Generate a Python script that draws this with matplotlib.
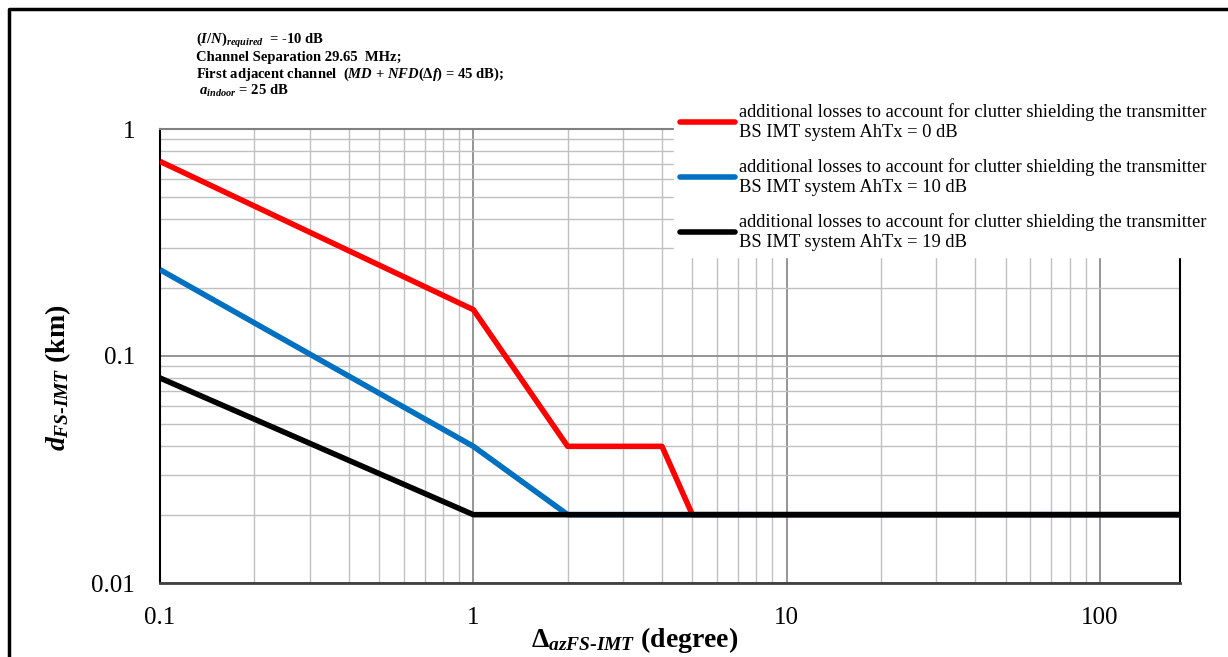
import numpy as np
import matplotlib
matplotlib.use('Agg')
import matplotlib.pyplot as plt
from matplotlib.ticker import FixedLocator, FixedFormatter, LogLocator, NullFormatter
from matplotlib.lines import Line2D

plt.rcParams['font.family'] = 'Liberation Serif'
plt.rcParams['mathtext.fontset'] = 'custom'
plt.rcParams['mathtext.rm'] = 'Liberation Serif:bold'
plt.rcParams['mathtext.it'] = 'Liberation Serif:italic:bold'
plt.rcParams['mathtext.bf'] = 'Liberation Serif:bold'
plt.rcParams['mathtext.bfit'] = 'Liberation Serif:italic:bold'

# --- data ---
az_0db  = [0.1, 1, 2, 4, 5, 180]
d_0db   = [0.72, 0.16, 0.04, 0.04, 0.02, 0.02]
az_10db = [0.1, 1, 2, 180]
d_10db  = [0.24, 0.04, 0.02, 0.02]
az_19db = [0.1, 1, 180]
d_19db  = [0.08, 0.02, 0.02]

series_labels = [
    'additional losses to account for clutter shielding the transmitter\nBS IMT system AhTx = 0 dB',
    'additional losses to account for clutter shielding the transmitter\nBS IMT system AhTx = 10 dB',
    'additional losses to account for clutter shielding the transmitter\nBS IMT system AhTx = 19 dB',
]
series_colors = ['#ff0000', '#0070c0', '#000000']

x_ticks = [0.1, 1, 10, 100]
x_ticklabels = ['0.1', '1', '10', '100']
y_ticks = [0.01, 0.1, 1]
y_ticklabels = ['0.01', '0.1', '1']

notes = [
    r'$(I/N)_{required}$  = -10 dB',
    'Channel Separation 29.65  MHz;',
    r'First adjacent channel  ($MD$ + $NFD$($\Delta f$) = 45 dB);',
    r' $a_{indoor}$ = 25 dB',
]

W, H = 1228, 657
fig = plt.figure(figsize=(W / 100, H / 100), dpi=100)
ax = fig.add_axes([160 / W, 1 - 583 / H, (1180 - 160) / W, (583 - 129) / H])

for xs, ys, c, lab in zip([az_0db, az_10db, az_19db], [d_0db, d_10db, d_19db],
                          series_colors, series_labels):
    ax.plot(xs, ys, color=c, lw=4, label=lab, solid_capstyle='butt', zorder=3)

ax.set_xscale('log')
ax.set_yscale('log')
ax.set_xlim(0.1, 180)
ax.set_ylim(0.01, 1)

ax.xaxis.set_major_locator(FixedLocator(x_ticks))
ax.xaxis.set_major_formatter(FixedFormatter(x_ticklabels))
ax.yaxis.set_major_locator(FixedLocator(y_ticks))
ax.yaxis.set_major_formatter(FixedFormatter(y_ticklabels))
ax.xaxis.set_minor_locator(LogLocator(base=10, subs=np.arange(2, 10)))
ax.yaxis.set_minor_locator(LogLocator(base=10, subs=np.arange(2, 10)))
ax.xaxis.set_minor_formatter(NullFormatter())
ax.yaxis.set_minor_formatter(NullFormatter())
ax.tick_params(which='both', length=0)
ax.tick_params(axis='x', pad=17, labelsize=18)
ax.tick_params(axis='y', pad=18, labelsize=18)

ax.grid(which='minor', color='#c0c0c0', lw=1.0)
ax.grid(which='major', color='#8c8c8c', lw=1.3)
ax.set_axisbelow(True)

for side, col, w in [('left', 'black', 1.5), ('right', 'black', 1.5),
                     ('top', '#808080', 1.5), ('bottom', '#404040', 2.0)]:
    ax.spines[side].set_color(col)
    ax.spines[side].set_linewidth(w)

leg = ax.legend(loc='upper left', bbox_to_anchor=(674 / W, 1 - 97 / H),
                bbox_transform=fig.transFigure, fontsize=13.3, handlelength=2.95,
                handletextpad=0.2, labelspacing=0.9, borderpad=0.35,
                borderaxespad=0, frameon=True, fancybox=False)
leg.get_frame().set_facecolor('white')
leg.get_frame().set_edgecolor('white')
leg.get_frame().set_alpha(1)
for t in leg.get_texts():
    t.set_linespacing(1.24)
for h in leg.get_lines():
    h.set_linewidth(4)
    h.set_solid_capstyle('round')

# stacked note in the top-left corner
for i, s in enumerate(notes):
    fig.text(196 / W, 1 - (41 + 16.5 * i) / H, s, fontsize=10.5, fontweight='bold',
             ha='left', va='center')

fig.text(635 / W, 1 - 640 / H, r'$\Delta_{azFS\text{-}IMT}$ (degree)',
         fontsize=20, fontweight='bold', ha='center', va='center')
fig.text(58 / W, 1 - 378 / H, r'$d_{FS\text{-}IMT}$ (km)',
         fontsize=20, fontweight='bold', ha='center', va='center', rotation=90)

# outer frame (only top and left visible in the reference)
fig.add_artist(Line2D([9 / W, 9 / W, 1], [0, 1 - 9 / H, 1 - 9 / H],
                      transform=fig.transFigure, color='black', lw=2.5))

fig.savefig('out.png', dpi=100)
